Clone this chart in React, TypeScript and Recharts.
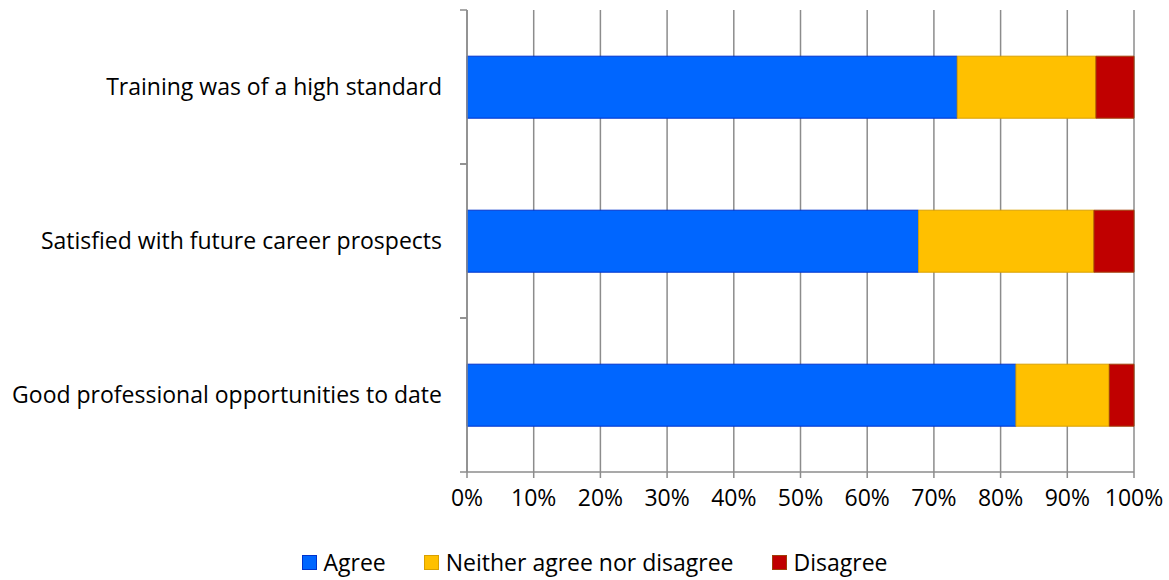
import React from 'react';
import { BarChart, Bar, XAxis, YAxis, CartesianGrid } from 'recharts';

const categories = [
  'Training was of a high standard',
  'Satisfied with future career prospects',
  'Good professional opportunities to date',
];
const agree = [73.5, 67.7, 82.3];
const neither = [20.8, 26.3, 14.0];
const disagree = [5.7, 6.0, 3.7];
const xTicks = [0, 10, 20, 30, 40, 50, 60, 70, 80, 90, 100];

const series = [
  { key: 'agree', name: 'Agree', fill: '#0066FF', stroke: '#0033CC' },
  { key: 'neither', name: 'Neither agree nor disagree', fill: '#FFC000', stroke: '#D9A000' },
  { key: 'disagree', name: 'Disagree', fill: '#C00000', stroke: '#A0400A' },
];

const data = categories.map((c, i) => ({
  category: c,
  agree: agree[i],
  neither: neither[i],
  disagree: disagree[i],
}));

const FONT = '"Open Sans", sans-serif';
const FS = 23;
const WIDTH = 1169;
const HEIGHT = 580;
const MARGIN = { top: 10, right: 35, bottom: 0, left: 0 };
const X_AXIS_H = 108;
const PLOT_H = HEIGHT - MARGIN.top - MARGIN.bottom - X_AXIS_H;
const BAND = PLOT_H / categories.length;

// category label in the middle, small tick marks on the band edges (like Excel)
const CategoryTick = (props: any) => {
  const { x, y, payload } = props;
  const axisX = x + 6;
  return (
    <g>
      <line x1={axisX - 7} x2={axisX} y1={y - BAND / 2} y2={y - BAND / 2} stroke="#8c8c8c" strokeWidth={1.5} />
      <line x1={axisX - 7} x2={axisX} y1={y + BAND / 2} y2={y + BAND / 2} stroke="#8c8c8c" strokeWidth={1.5} />
      <text x={axisX - 25} y={y} dy={8} textAnchor="end" fill="#000" fontSize={FS} fontFamily={FONT}>
        {payload.value}
      </text>
    </g>
  );
};

const LegendRow = () => (
  <div
    style={{
      position: 'absolute',
      top: 546,
      left: 20,
      width: WIDTH - 20,
      display: 'flex',
      justifyContent: 'center',
      gap: 38,
      fontFamily: FONT,
      fontSize: FS,
      color: '#000',
    }}
  >
    {series.map((s) => (
      <div key={s.key} style={{ display: 'flex', alignItems: 'center', gap: 7 }}>
        <span
          style={{
            display: 'inline-block',
            width: 13,
            height: 13,
            background: s.fill,
            border: `1px solid ${s.stroke}`,
          }}
        />
        <span>{s.name}</span>
      </div>
    ))}
  </div>
);

export default function App() {
  return (
    <div style={{ position: 'relative', width: WIDTH, height: HEIGHT }}>
      <style>{'body{margin:0}'}</style>
      <BarChart
        width={WIDTH}
        height={HEIGHT}
        data={data}
        layout="vertical"
        margin={MARGIN}
        barCategoryGap="30%"
      >
        <CartesianGrid horizontal={false} stroke="#8c8c8c" strokeWidth={1.5} />
        <XAxis
          type="number"
          domain={[0, 100]}
          ticks={xTicks}
          tickFormatter={(v) => `${v}%`}
          height={X_AXIS_H}
          stroke="#8c8c8c"
          strokeWidth={1.5}
          tickSize={6}
          tickMargin={12}
          tick={{ fill: '#000', fontSize: FS, fontFamily: FONT }}
          interval={0}
        />
        <YAxis
          type="category"
          dataKey="category"
          width={467}
          stroke="#8c8c8c"
          strokeWidth={1.5}
          tickLine={false}
          tick={<CategoryTick />}
          tickMargin={0}
          interval={0}
        />
        {series.map((s) => (
          <Bar
            key={s.key}
            dataKey={s.key}
            name={s.name}
            stackId="a"
            fill={s.fill}
            stroke={s.stroke}
            strokeWidth={1}
            isAnimationActive={false}
          />
        ))}
      </BarChart>
      <LegendRow />
    </div>
  );
}
